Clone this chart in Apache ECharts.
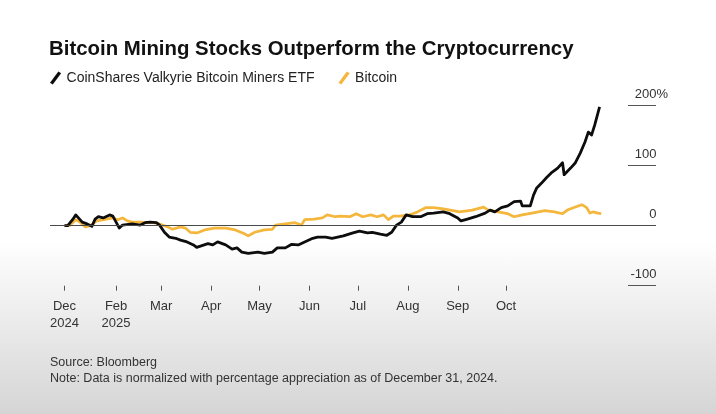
<!DOCTYPE html>
<html>
<head>
<meta charset="utf-8">
<script src="https://cdn.jsdelivr.net/npm/echarts@6/dist/echarts.min.js"></script>
<style>
  html, body { margin: 0; padding: 0; }
  body {
    width: 716px; height: 414px;
    background: linear-gradient(to bottom, #ffffff 0%, #ffffff 58%, #eeeeee 75%, #d5d5d5 100%);
  }
  #chart { width: 716px; height: 414px; }
</style>
</head>
<body>
<div id="chart"></div>
<script>
var seriesNames = ['CoinShares Valkyrie Bitcoin Miners ETF', 'Bitcoin'];

// days after Dec 31, 2024 -> % change
var minersDays = [0, 2, 5, 7, 8, 11, 14, 17, 19, 21, 24, 28, 30, 33, 34, 36, 42, 47, 50, 53, 57, 59,
  62, 65, 69, 72, 76, 80, 82, 89, 92, 95, 100, 104, 107, 110, 114, 120, 124, 129, 132, 137, 141,
  145, 149, 154, 157, 162, 166, 173, 179, 183, 188, 191, 196, 200, 203, 206, 209, 212, 216, 221,
  225, 229, 235, 239, 244, 246, 250, 255, 261, 264, 267, 271, 275, 279, 283, 284, 289, 291, 293,
  296, 299, 302, 306, 309, 310, 314, 317, 320, 323, 325, 327, 329, 331, 332];
var minersValues = [0, 0, 10, 18, 18, 6, 3, -1, 11, 15, 13, 18, 16, 1, -4, 1, 3, 1, 5, 6, 5, 1,
  -11, -19, -21, -24, -27, -32, -36, -30, -32, -27, -32, -39, -37, -44, -46, -44, -46, -44, -37, -37, -31,
  -32, -27, -21, -19, -19, -21, -17, -12, -9, -12, -11, -14, -16, -11, 1, 6, 18, 15, 15,
  20, 21, 23, 20, 13, 8, 11, 15, 21, 26, 23, 30, 33, 40, 41, 33, 33, 51, 63,
  71, 80, 88, 96, 105, 85, 96, 105, 121, 140, 156, 151, 168, 188, 198];

var bitcoinDays = [0, 3, 7, 10, 13, 16, 20, 26, 30, 33, 36, 39, 42, 47, 51, 55, 59, 64, 67, 72, 75,
  78, 82, 87, 93, 100, 106, 112, 114, 118, 124, 129, 131, 137, 143, 147, 149, 155, 160, 163, 168,
  171, 177, 181, 185, 190, 194, 198, 201, 204, 208, 214, 219, 224, 229, 235, 241, 245, 253, 260,
  263, 269, 275, 279, 284, 290, 298, 304, 309, 312, 317, 321, 324, 326, 328, 331, 333];
var bitcoinValues = [0, 0, 10, 5, -2, 0, 8, 11, 13, 10, 13, 8, 6, 6, 5, 5, 3, -2, -6, -2, -4,
  -11, -12, -7, -4, -4, -7, -14, -17, -11, -7, -6, 1, 3, 5, 1, 10, 11, 13, 18, 15,
  16, 15, 20, 15, 18, 15, 18, 10, 16, 16, 18, 23, 30, 30, 28, 25, 23, 26, 31,
  26, 23, 20, 15, 18, 21, 25, 23, 20, 26, 31, 35, 30, 21, 23, 21, 20];

var tickDates = ['2024-12-31', '2025-02-01', '2025-03-01', '2025-04-01', '2025-05-01', '2025-06-01',
  '2025-07-01', '2025-08-01', '2025-09-01', '2025-10-01'];
var tickLabels = ['Dec\n2024', 'Feb\n2025', 'Mar', 'Apr', 'May', 'Jun', 'Jul', 'Aug', 'Sep', 'Oct'];

var DAY = 86400000;
var base = Date.UTC(2024, 11, 31);
// tick positions as day offsets from Dec 31, 2024
var tickDays = tickDates.map(function(d) {
  return Math.round((new Date(d + 'T00:00:00Z').getTime() - base) / DAY);
});

function toPoints(days, values) {
  return days.map(function(d, i) { return [d, values[i]]; });
}

var chart = echarts.init(document.getElementById('chart'), null, { renderer: 'canvas' });
var FONT = 'Liberation Sans, Arial, sans-serif';

var option = {
  backgroundColor: 'transparent',
  animation: false,
  textStyle: { fontFamily: FONT },
  title: [
    {
      text: 'Bitcoin Mining Stocks Outperform the Cryptocurrency',
      left: 44, top: 34,
      textStyle: { fontFamily: FONT, fontSize: 20.4, fontWeight: 'bold', color: '#111' }
    },
    {
      text: 'Source: Bloomberg\nNote: Data is normalized with percentage appreciation as of December 31, 2024.',
      left: 45, top: 350,
      textStyle: { fontFamily: FONT, fontSize: 12.5, fontWeight: 'normal', color: '#333', lineHeight: 16 }
    }
  ],
  legend: {
    left: 45, top: 66,
    itemWidth: 12, itemHeight: 13, itemGap: 24,
    data: [
      { name: seriesNames[0], icon: 'path://M0,12 L9,0 L12,2 L3,14 Z' },
      { name: seriesNames[1], icon: 'path://M0,12 L9,0 L12,2 L3,14 Z' }
    ],
    textStyle: { fontFamily: FONT, fontSize: 14, color: '#222' }
  },
  grid: { left: 50, right: 60, top: 105.7, bottom: 128.3 },
  xAxis: {
    type: 'value',
    min: -9,
    max: 367,
    axisLine: { show: false, onZero: false },
    splitLine: { show: false },
    axisTick: { show: true, customValues: tickDays, length: 5, lineStyle: { color: '#555' } },
    axisLabel: {
      customValues: tickDays,
      formatter: function(v) { return tickLabels[tickDays.indexOf(v)]; },
      margin: 12, fontSize: 13, lineHeight: 17, color: '#333', hideOverlap: false
    }
  },
  yAxis: {
    type: 'value',
    position: 'right',
    min: -100, max: 200, interval: 100,
    axisLine: { show: false, onZero: false },
    splitLine: { show: false },
    axisTick: { show: true, inside: true, length: 28, lineStyle: { color: '#555' } },
    axisLabel: {
      inside: true, margin: -12, align: 'right', verticalAlign: 'bottom',
      padding: [0, 0, 5, 0], fontSize: 13, color: '#333',
      formatter: function(v) { return v + (v === 200 ? '{p|%}' : '{h|%}'); },
      rich: {
        p: { fontSize: 13, color: '#333' },
        h: { fontSize: 13, color: 'rgba(0,0,0,0)' }
      }
    }
  },
  series: [
    {
      name: seriesNames[1],
      type: 'line',
      data: toPoints(bitcoinDays, bitcoinValues),
      showSymbol: false,
      lineStyle: { color: '#f5b63c', width: 2.7, join: 'round' },
      itemStyle: { color: '#f5b63c' },
      markLine: {
        silent: true,
        symbol: ['none', 'none'],
        label: { show: false },
        lineStyle: { color: '#4a4a4a', width: 1, type: 'solid' },
        data: [{ yAxis: 0 }]
      }
    },
    {
      name: seriesNames[0],
      type: 'line',
      data: toPoints(minersDays, minersValues),
      showSymbol: false,
      lineStyle: { color: '#0d0d0d', width: 2.8, join: 'round' },
      itemStyle: { color: '#0d0d0d' }
    }
  ]
};

chart.setOption(option);
</script>
</body>
</html>
